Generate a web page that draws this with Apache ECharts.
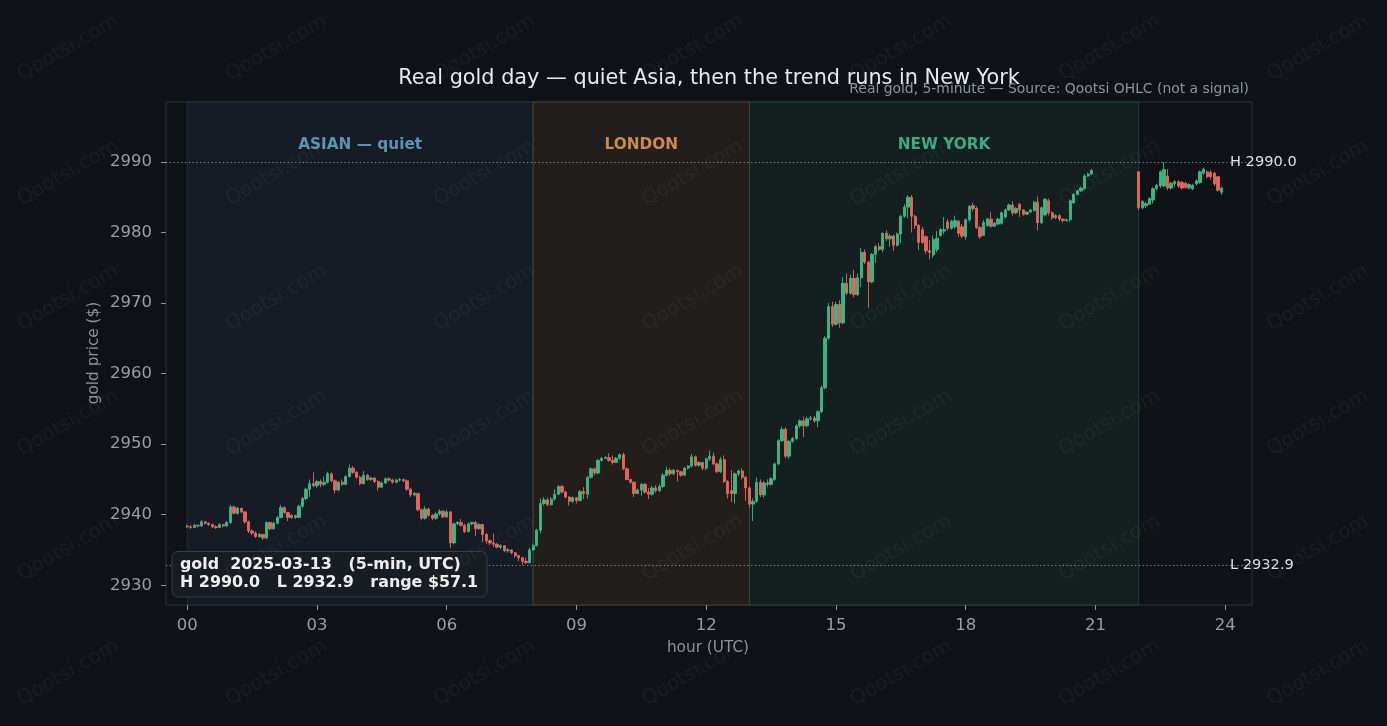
<!DOCTYPE html>
<html>
<head>
<meta charset="utf-8">
<script src="https://cdn.jsdelivr.net/npm/echarts@6/dist/echarts.min.js"></script>
<style>
  html, body { margin: 0; padding: 0; background: #0e1116; }
  #container { width: 1387px; height: 726px; }
</style>
</head>
<body>
<div id="container"></div>
<script>
  // 5-minute bars, each [open, close, low, high]
  var asiaBars = [
      [2938.4,2938.3,2938.1,2938.6],[2938.3,2938.2,2938.0,2938.5],[2938.2,2938.5,2938.1,2938.7],[2938.5,2938.4,2938.2,2938.6],
      [2938.4,2939.0,2938.3,2939.2],[2939.0,2938.8,2938.6,2939.1],[2938.8,2938.6,2938.4,2938.9],[2938.6,2938.3,2938.1,2938.7],
      [2938.3,2938.2,2938.0,2938.5],[2938.2,2938.6,2938.1,2938.8],[2938.6,2938.4,2938.2,2938.7],[2938.4,2938.9,2938.3,2939.1],
      [2938.9,2941.1,2938.7,2941.4],[2941.1,2940.2,2940.0,2941.3],[2940.2,2940.9,2940.0,2941.1],[2940.9,2940.4,2940.2,2941.0],
      [2940.4,2939.0,2938.7,2940.5],[2939.0,2937.7,2937.4,2939.2],[2937.7,2937.4,2937.1,2937.9],[2937.4,2936.9,2936.7,2937.6],
      [2936.9,2937.2,2936.7,2937.4],[2937.2,2936.7,2936.4,2937.3],[2936.7,2938.9,2936.5,2939.1],[2938.9,2938.0,2937.8,2939.0],
      [2938.0,2938.8,2937.9,2939.0],[2938.8,2939.6,2938.6,2939.8],[2939.6,2941.0,2939.5,2941.4],[2941.0,2940.3,2940.1,2941.2],
      [2940.3,2939.6,2939.1,2940.4],[2939.6,2939.9,2939.4,2940.1],[2939.9,2939.6,2939.4,2940.0],[2939.6,2941.2,2939.5,2941.4],
      [2941.2,2942.3,2941.0,2942.5],[2942.3,2943.6,2942.1,2943.8],[2943.6,2944.4,2942.5,2945.0],[2944.4,2944.1,2943.9,2946.0],
      [2944.1,2944.7,2943.8,2944.9],[2944.7,2944.3,2943.9,2945.0],[2944.3,2944.6,2944.1,2945.4],[2944.6,2945.8,2944.4,2946.1],
      [2945.8,2944.8,2944.6,2946.0],[2944.8,2943.5,2943.0,2945.0],[2943.5,2944.6,2943.3,2944.8],[2944.6,2944.3,2944.1,2945.0],
      [2944.3,2945.4,2944.2,2945.6],[2945.4,2946.6,2945.3,2947.1],[2946.6,2946.0,2945.8,2946.9],[2946.0,2945.3,2945.1,2946.2],
      [2945.3,2944.4,2944.2,2945.5],[2944.4,2945.6,2944.3,2946.2],[2945.6,2945.0,2944.8,2945.8],[2945.0,2945.2,2944.8,2945.4],
      [2945.2,2944.7,2944.5,2945.3],[2944.7,2943.9,2943.4,2944.9],[2943.9,2944.5,2943.8,2944.7],[2944.5,2945.1,2944.4,2945.3],
      [2945.1,2944.9,2944.7,2945.3],[2944.9,2944.6,2944.4,2945.1],[2944.6,2944.9,2944.5,2945.1],[2944.9,2945.0,2944.7,2945.2],
      [2945.0,2944.8,2944.6,2945.1],[2944.8,2943.6,2943.4,2945.0],[2943.6,2942.8,2942.5,2943.8],[2942.8,2943.0,2942.6,2943.2],
      [2943.0,2940.7,2940.5,2943.1],[2940.7,2939.5,2939.2,2940.9],[2939.5,2940.8,2939.3,2941.2],[2940.8,2939.9,2939.7,2941.0],
      [2939.9,2939.5,2939.2,2940.1],[2939.5,2940.1,2939.3,2940.3],[2940.1,2940.5,2939.9,2940.8],[2940.5,2939.7,2939.5,2940.6],
      [2939.7,2940.4,2939.5,2940.7],[2940.4,2936.0,2935.3,2940.5],[2936.0,2938.7,2935.8,2938.9],[2938.7,2938.9,2938.5,2939.1],
      [2938.9,2938.5,2938.3,2939.4],[2938.5,2937.6,2937.4,2938.7],[2937.6,2938.7,2937.5,2938.9],[2938.7,2938.9,2938.5,2939.0],
      [2938.9,2938.0,2937.0,2939.1],[2938.0,2938.6,2937.9,2938.8],[2938.6,2937.2,2936.1,2938.7],[2937.2,2936.3,2935.9,2937.4],
      [2936.3,2936.0,2935.7,2936.5],[2936.0,2935.8,2935.4,2937.3],[2935.8,2935.4,2935.2,2936.0],[2935.4,2935.6,2935.1,2935.8],
      [2935.6,2934.9,2934.7,2935.7],[2934.9,2935.0,2934.6,2935.3],[2935.0,2934.6,2934.4,2935.1],[2934.6,2934.2,2933.9,2934.7],
      [2934.2,2933.9,2933.4,2934.3],[2933.9,2933.4,2932.9,2934.0],[2933.4,2933.2,2933.0,2933.9],[2933.2,2935.0,2933.1,2935.3]
  ];
  var londonBars = [
      [2935.0,2935.6,2934.9,2935.9],[2935.6,2937.8,2935.5,2938.0],[2937.8,2941.6,2937.4,2942.3],[2941.6,2942.1,2941.3,2942.5],
      [2942.1,2941.4,2941.2,2942.4],[2941.4,2942.2,2941.3,2942.5],[2942.2,2942.9,2942.0,2943.6],[2942.9,2944.0,2942.8,2944.2],
      [2944.0,2943.2,2943.0,2944.2],[2943.2,2942.5,2942.3,2943.4],[2942.5,2941.9,2941.3,2942.6],[2941.9,2942.4,2941.7,2942.6],
      [2942.4,2942.0,2941.6,2942.5],[2942.0,2943.3,2941.9,2943.5],[2943.3,2943.0,2942.2,2943.9],[2942.9,2945.3,2942.3,2945.5],
      [2945.3,2946.5,2945.1,2946.7],[2946.5,2945.9,2945.6,2946.7],[2945.9,2947.7,2945.8,2947.9],[2947.7,2948.0,2947.5,2948.2],
      [2948.0,2948.1,2947.9,2948.3],[2948.1,2947.7,2947.5,2948.7],[2947.7,2947.4,2947.1,2948.4],[2947.4,2948.0,2947.3,2948.2],
      [2948.0,2948.5,2947.8,2948.7],[2948.5,2946.5,2946.3,2948.8],[2946.5,2945.0,2944.9,2946.7],[2945.0,2944.6,2944.4,2945.1],
      [2944.6,2943.0,2942.5,2944.7],[2943.0,2943.5,2942.9,2943.7],[2943.5,2944.3,2942.7,2944.5],[2944.3,2943.2,2943.0,2944.5],
      [2943.2,2942.9,2942.2,2943.8],[2942.9,2943.8,2942.7,2944.1],[2943.8,2943.4,2943.1,2944.2],[2943.4,2944.0,2943.2,2944.3],
      [2944.0,2945.6,2943.8,2945.9],[2945.6,2946.3,2945.4,2946.8],[2946.3,2945.8,2945.5,2946.6],[2945.8,2946.3,2945.6,2946.5],
      [2946.3,2946.1,2944.7,2946.4],[2946.1,2945.6,2945.4,2946.2],[2945.6,2946.6,2945.5,2946.8],[2946.6,2946.9,2946.4,2947.0],
      [2946.9,2948.2,2946.7,2948.6],[2948.2,2947.0,2946.8,2948.4],[2947.0,2947.4,2946.8,2947.6],[2947.4,2946.6,2946.3,2947.5],
      [2946.6,2947.9,2946.3,2948.1],[2947.9,2948.3,2947.6,2949.1],[2948.3,2947.2,2947.0,2948.8],[2947.2,2946.1,2945.9,2947.4],
      [2946.1,2947.8,2945.9,2948.2],[2947.8,2944.7,2944.5,2948.4],[2944.7,2943.0,2942.3,2944.9],[2943.4,2943.0,2941.8,2946.3],
      [2943.0,2945.8,2941.6,2946.0],[2945.8,2946.2,2945.5,2946.4],[2946.2,2945.3,2945.0,2946.6],[2945.3,2943.8,2942.0,2945.5]
  ];
  var nyBars = [
      [2943.8,2941.5,2941.0,2944.0],[2941.5,2941.9,2939.1,2942.3],[2941.9,2944.6,2941.7,2945.3],[2944.6,2942.8,2942.5,2945.0],
      [2942.8,2944.5,2942.4,2944.8],[2944.5,2944.3,2943.9,2945.0],[2944.3,2945.1,2944.1,2945.3],[2945.0,2947.2,2944.8,2947.4],
      [2947.2,2950.5,2947.0,2950.7],[2950.5,2952.1,2950.3,2952.5],[2952.1,2948.3,2948.0,2952.4],[2948.3,2950.4,2947.9,2950.6],
      [2950.4,2950.8,2950.2,2951.0],[2950.8,2952.6,2950.6,2952.8],[2952.6,2953.3,2952.3,2953.5],[2953.3,2952.6,2951.0,2953.9],
      [2952.6,2953.6,2952.4,2953.9],[2953.6,2953.7,2953.4,2954.0],[2953.7,2953.3,2953.0,2954.0],[2953.3,2954.6,2952.4,2954.8],
      [2954.6,2958.0,2954.4,2958.3],[2958.0,2965.0,2957.8,2965.3],[2965.0,2969.5,2964.8,2970.0],[2969.5,2967.0,2966.6,2970.2],
      [2967.0,2969.8,2966.8,2970.2],[2969.8,2967.2,2966.5,2970.4],[2967.2,2972.8,2967.0,2973.7],[2972.8,2971.4,2971.1,2974.2],
      [2971.4,2973.5,2971.2,2974.0],[2973.5,2971.2,2970.8,2974.7],[2971.2,2973.6,2971.0,2974.2],[2973.6,2977.2,2972.3,2977.8],
      [2977.2,2975.8,2975.5,2977.6],[2975.8,2973.0,2969.3,2976.0],[2973.0,2976.9,2972.8,2977.1],[2976.9,2978.0,2975.7,2978.2],
      [2978.0,2977.6,2977.3,2978.5],[2977.6,2979.9,2977.2,2980.0],[2979.9,2979.1,2978.8,2980.3],[2979.1,2979.5,2978.0,2979.8],
      [2979.5,2978.2,2977.4,2979.7],[2978.2,2979.8,2978.0,2980.0],[2979.8,2982.3,2978.5,2982.5],[2982.3,2983.6,2982.1,2984.0],
      [2983.6,2985.0,2982.0,2985.3],[2985.0,2982.3,2980.0,2985.3],[2982.3,2981.0,2980.5,2982.5],[2981.0,2978.6,2977.5,2981.2],
      [2980.4,2978.6,2978.4,2980.8],[2979.4,2977.4,2977.0,2979.6],[2977.4,2977.2,2976.2,2978.9],[2976.8,2979.0,2976.4,2979.6],
      [2977.6,2979.2,2977.2,2980.2],[2979.6,2980.4,2979.4,2980.6],[2980.2,2980.4,2979.8,2982.2],[2981.5,2980.6,2980.3,2981.9],
      [2980.6,2981.6,2980.4,2981.8],[2980.8,2981.7,2980.5,2982.4],[2981.6,2979.9,2979.4,2981.8],[2980.8,2979.5,2979.2,2981.2],
      [2979.4,2981.8,2979.0,2982.0],[2981.8,2983.7,2981.5,2983.9],[2983.8,2983.4,2983.0,2984.2],[2983.4,2980.7,2980.5,2983.7],
      [2980.7,2979.4,2979.1,2980.9],[2979.6,2981.4,2979.5,2981.8],[2981.0,2981.9,2980.8,2982.1],[2981.9,2980.9,2980.7,2982.9],
      [2980.9,2981.3,2980.8,2981.5],[2981.2,2981.9,2981.0,2982.1],[2981.3,2982.8,2981.1,2983.0],[2982.2,2983.2,2982.0,2983.4],
      [2983.2,2983.9,2983.1,2984.1],[2983.9,2982.8,2982.4,2984.4],[2982.8,2983.4,2982.6,2983.6],[2984.0,2983.2,2982.2,2984.2],
      [2983.2,2982.6,2982.4,2983.3],[2982.6,2982.9,2982.5,2983.0],[2982.9,2983.2,2982.8,2983.3],[2983.1,2984.3,2983.0,2984.5],
      [2984.3,2981.4,2980.3,2985.1],[2981.4,2983.5,2981.2,2983.7],[2982.5,2984.7,2982.3,2984.9],[2984.5,2982.8,2982.4,2984.8],
      [2982.8,2982.1,2981.8,2983.0],[2982.1,2982.4,2981.9,2982.6],[2982.4,2981.9,2981.6,2982.6],[2981.9,2981.7,2981.4,2982.0],
      [2981.7,2981.8,2981.5,2982.0],[2981.8,2984.5,2981.5,2984.7],[2984.2,2985.4,2984.1,2985.6],[2985.4,2985.9,2985.3,2986.1],
      [2985.9,2986.3,2985.8,2986.5],[2986.2,2988.0,2986.1,2988.3],[2988.0,2988.3,2987.9,2988.5],[2988.3,2988.8,2988.2,2989.0]
  ];
  var lateBars = [
      [2988.6,2983.5,2983.2,2988.7],[2983.5,2984.4,2983.3,2984.6],[2983.8,2984.1,2983.5,2984.3],[2984.0,2984.8,2983.9,2985.0],
      [2984.6,2986.2,2984.1,2986.4],[2986.2,2986.7,2986.0,2986.9],[2986.6,2988.6,2986.3,2988.8],[2986.6,2988.9,2986.5,2990.0],
      [2988.0,2986.3,2986.0,2989.0],[2986.3,2987.0,2986.1,2987.2],[2986.9,2987.2,2986.5,2987.4],[2987.2,2986.6,2986.3,2987.4],
      [2987.1,2986.3,2986.1,2987.3],[2987.0,2986.4,2986.2,2987.2],[2986.3,2986.8,2986.1,2987.0],[2986.2,2986.7,2986.0,2986.9],
      [2986.9,2987.3,2986.7,2987.5],[2987.1,2988.6,2986.9,2988.8],[2988.4,2989.0,2988.2,2989.2],[2988.6,2987.9,2987.7,2988.8],
      [2988.5,2987.9,2987.5,2988.8],[2988.4,2986.9,2986.6,2988.6],[2987.9,2986.0,2985.8,2988.0],[2985.7,2986.3,2985.3,2986.5]
  ];
  // first bar hour of each block above
  var blockStarts = [0, 8, 13, 22];

  var sessionNames = ['ASIAN — quiet', 'LONDON', 'NEW YORK'];
  var sessionHours = [[0, 8], [8, 13], [13, 22]];
  var dayHigh = 2990.0;
  var dayLow = 2932.9;
  var xTicks = [0, 3, 6, 9, 12, 15, 18, 21, 24];
  var yTicks = [2930, 2940, 2950, 2960, 2970, 2980, 2990];

  var FONT = 'DejaVu Sans';
  var UP = '#3cb784';
  var DOWN = '#e4665a';

  // [hour, open, close, low, high]
  var candles = [];
  [asiaBars, londonBars, nyBars, lateBars].forEach(function (bars, k) {
      bars.forEach(function (b, i) {
          candles.push([blockStarts[k] + i / 12, b[0], b[1], b[2], b[3]]);
      });
  });

  var bandFill = ['#151c25', '#221e1c', '#13201f'];
  var bandEdge = ['rgba(90,140,175,0.18)', 'rgba(160,130,100,0.35)', 'rgba(70,150,120,0.3)'];
  var bandText = ['#5b93b5', '#c98a4c', '#3dab80'];

  var bands = sessionHours.map(function (h, i) {
      return [{
          name: sessionNames[i],
          xAxis: h[0],
          itemStyle: { color: bandFill[i], borderColor: bandEdge[i], borderWidth: 1 },
          label: { color: bandText[i] }
      }, { xAxis: h[1] }];
  });

  // watermark grid
  var marks = [];
  for (var r = 0; r < 6; r++) {
      for (var c = 0; c < 7; c++) {
          marks.push({
              type: 'text',
              x: 68 + c * 208.3,
              y: 48 + r * 125,
              rotation: Math.PI / 6,
              z: 100,
              silent: true,
              style: {
                  text: 'Qootsi.com',
                  fill: 'rgba(255,255,255,0.045)',
                  font: '20px "DejaVu Sans"',
                  textAlign: 'center',
                  textVerticalAlign: 'middle'
              }
          });
      }
  }

  var dom = document.getElementById('container');
  var myChart = echarts.init(dom);

  var option = {
      backgroundColor: '#0e1116',
      animation: false,
      textStyle: { fontFamily: FONT },
      grid: {
          left: 166,
          right: 135,
          top: 102,
          bottom: 121,
          show: true,
          backgroundColor: '#0f1217',
          borderColor: '#2e333b',
          borderWidth: 1
      },
      xAxis: {
          type: 'value',
          min: -0.49,
          max: 24.62,
          splitLine: { show: false },
          axisLine: { show: false, onZero: false },
          axisTick: { show: true, length: 5, lineStyle: { color: '#8f96a0' }, customValues: xTicks },
          axisLabel: {
              color: '#979ea8',
              fontSize: 16.5,
              margin: 12,
              customValues: xTicks,
              formatter: function (v) { return (v < 10 ? '0' : '') + v; }
          }
      },
      yAxis: {
          type: 'value',
          min: 2927.2,
          max: 2998.5,
          splitLine: { show: false },
          axisLine: { show: false, onZero: false },
          axisTick: { show: true, length: 5, lineStyle: { color: '#8f96a0' }, customValues: yTicks },
          axisLabel: {
              color: '#979ea8',
              fontSize: 16.5,
              margin: 14,
              customValues: yTicks,
              formatter: function (v) { return String(v); }
          }
      },
      series: [
          {
              // session shading + day high / low
              type: 'line',
              data: [],
              z: 1,
              silent: true,
              markArea: {
                  silent: true,
                  label: {
                      show: true,
                      position: 'insideTop',
                      distance: 36,
                      fontSize: 15.3,
                      fontWeight: 'bold',
                      fontFamily: FONT
                  },
                  data: bands
              },
              markLine: {
                  silent: true,
                  symbol: 'none',
                  label: { show: false },
                  lineStyle: { color: '#8a9099', width: 1.2, type: [1.2, 2.6] },
                  data: [{ yAxis: dayHigh }, { yAxis: dayLow }]
              }
          },
          {
              type: 'candlestick',
              z: 3,
              barWidth: 2.8,
              encode: { x: 0, y: [1, 2, 3, 4] },
              itemStyle: {
                  color: UP,
                  color0: DOWN,
                  borderColor: UP,
                  borderColor0: DOWN,
                  borderWidth: 0.9
              },
              data: candles
          }
      ]
  };

  if (option && typeof option === 'object') {
      myChart.setOption(option, true);
  }

  // text on top, placed once the axes exist
  var yHigh = myChart.convertToPixel({ gridIndex: 0 }, [0, dayHigh])[1];
  var yLow = myChart.convertToPixel({ gridIndex: 0 }, [0, dayLow])[1];

  myChart.setOption({
      graphic: marks.concat([
          {
              type: 'text', x: 709, y: 79, z: 50,
              style: { text: 'Real gold day — quiet Asia, then the trend runs in New York', fill: '#e6e8eb',
                       font: '20.8px "DejaVu Sans"', textAlign: 'center', textVerticalAlign: 'middle' }
          },
          {
              type: 'text', x: 1249, y: 89, z: 50,
              style: { text: 'Real gold, 5-minute — Source: Qootsi OHLC (not a signal)', fill: '#8b939d',
                       font: '13.9px "DejaVu Sans"', textAlign: 'right', textVerticalAlign: 'middle' }
          },
          {
              type: 'text', x: 1230, y: yHigh, z: 50,
              style: { text: 'H ' + dayHigh.toFixed(1), fill: '#dcdfe3', font: '14.6px "DejaVu Sans"',
                       textAlign: 'left', textVerticalAlign: 'middle' }
          },
          {
              type: 'text', x: 1230, y: yLow, z: 50,
              style: { text: 'L ' + dayLow.toFixed(1), fill: '#dcdfe3', font: '14.6px "DejaVu Sans"',
                       textAlign: 'left', textVerticalAlign: 'middle' }
          },
          {
              type: 'text', x: 94, y: 353, rotation: Math.PI / 2, z: 50,
              style: { text: 'gold price ($)', fill: '#8b939d', font: '15.3px "DejaVu Sans"',
                       textAlign: 'center', textVerticalAlign: 'middle' }
          },
          {
              type: 'text', x: 708, y: 648, z: 50,
              style: { text: 'hour (UTC)', fill: '#8b939d', font: '15.3px "DejaVu Sans"',
                       textAlign: 'center', textVerticalAlign: 'middle' }
          },
          // info box
          {
              type: 'rect', z: 60,
              shape: { x: 172, y: 551.5, width: 315, height: 45.5, r: 6 },
              style: { fill: 'rgba(24,28,35,0.95)', stroke: '#383d46', lineWidth: 1 }
          },
          {
              type: 'text', x: 180, y: 565, z: 61,
              style: { text: 'gold  2025-03-13   (5-min, UTC)', fill: '#eeeeee', font: 'bold 15.9px "DejaVu Sans"',
                       textVerticalAlign: 'middle' }
          },
          {
              type: 'text', x: 180, y: 583, z: 61,
              style: { text: 'H ' + dayHigh.toFixed(1) + '   L ' + dayLow.toFixed(1) + '   range $' + (dayHigh - dayLow).toFixed(1),
                       fill: '#eeeeee', font: 'bold 15.9px "DejaVu Sans"', textVerticalAlign: 'middle' }
          }
      ])
  });
</script>
</body>
</html>
